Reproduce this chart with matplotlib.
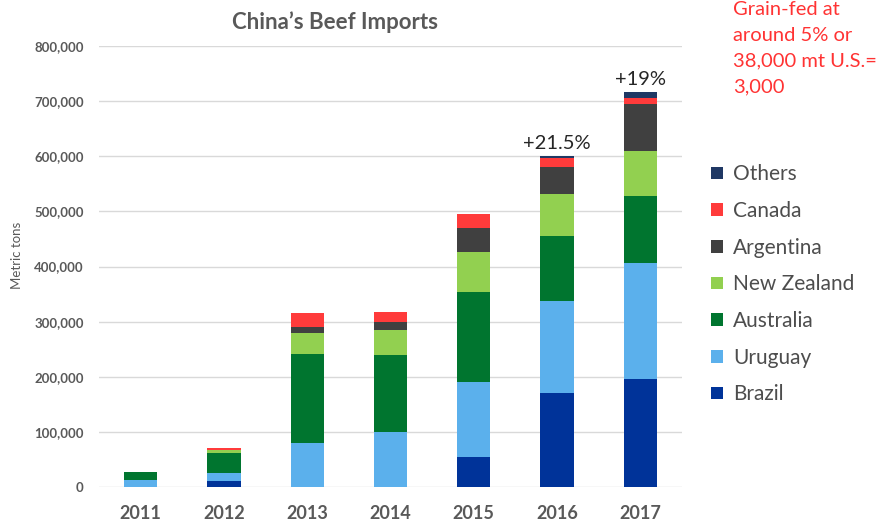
import numpy as np
import matplotlib
matplotlib.use("Agg")
import matplotlib.pyplot as plt
from matplotlib.patches import Patch
from matplotlib.ticker import FuncFormatter

plt.rcParams["font.family"] = ["Lato", "DejaVu Sans"]

# China beef imports by origin, metric tons
years = ["2011", "2012", "2013", "2014", "2015", "2016", "2017"]
brazil = [0, 10000, 0, 0, 55000, 170000, 196000]
uruguay = [12000, 16000, 80000, 100000, 136000, 167000, 211000]
australia = [15000, 35000, 162000, 140000, 162000, 118000, 120000]
new_zealand = [0, 6000, 38000, 44000, 74000, 76000, 83000]
argentina = [0, 1000, 10000, 15000, 42000, 50000, 85000]
canada = [0, 3000, 25000, 18000, 26000, 15000, 10000]
others = [0, 0, 0, 0, 0, 4000, 11000]

growth_labels = {5: "+21.5%", 6: "+19%"}

series = [
    ("Brazil", brazil, "#003399"),
    ("Uruguay", uruguay, "#5BB0EC"),
    ("Australia", australia, "#00752F"),
    ("New Zealand", new_zealand, "#92D050"),
    ("Argentina", argentina, "#404040"),
    ("Canada", canada, "#FF3B3B"),
    ("Others", others, "#1F3864"),
]

grey = "#595959"

fig = plt.figure(figsize=(8.87, 5.25), dpi=100)
ax = fig.add_axes([99 / 887, 38 / 525, 583 / 887, 441 / 525])

x = np.arange(len(years))
bottom = np.zeros(len(years))
for name, vals, color in series:
    ax.bar(x, vals, width=0.4, bottom=bottom, color=color, label=name, zorder=3)
    bottom += np.array(vals)

for i, txt in growth_labels.items():
    ax.text(x[i], bottom[i] + 8000, txt, ha="center", va="bottom",
            fontsize=14.5, color="#262626")

ax.set_xlim(-0.5, len(years) - 0.5)
ax.set_ylim(0, 800000)
ax.set_yticks(np.arange(0, 800001, 100000))
ax.yaxis.set_major_formatter(FuncFormatter(lambda v, p: f"{int(v):,}"))
ax.set_xticks(x)
ax.set_xticklabels(years, fontsize=13, fontweight="bold", color=grey)
for lbl in ax.get_yticklabels():
    lbl.set_fontsize(9.5)
    lbl.set_fontweight("bold")
    lbl.set_color(grey)
ax.tick_params(length=0)
ax.tick_params(axis="x", pad=13)
ax.tick_params(axis="y", pad=11)
ax.grid(axis="y", color="#D9D9D9", linewidth=1, zorder=0)
for s in ax.spines.values():
    s.set_visible(False)

fig.text(17 / 887, 1 - 255 / 525, "Metric tons", rotation=90, ha="center",
         va="center", fontsize=9.5, color=grey)

fig.text(335 / 887, 1 - 22 / 525, "China\u2019s Beef Imports", ha="center",
         va="center", fontsize=16, fontweight="bold", color=grey)

# legend, top entry first
handles = [Patch(facecolor=c, label=n) for n, _, c in reversed(series)]
fig.legend(handles=handles, loc="upper left", bbox_to_anchor=(703 / 887, 1 - 156 / 525),
           frameon=False, fontsize=15, labelcolor="#4D4D4D", handlelength=0.55,
           handleheight=0.55, handletextpad=0.5, labelspacing=0.8, borderaxespad=0)

fig.text(733 / 887, 1 - 1 / 525, "Grain-fed at\naround 5% or\n38,000 mt U.S.=\n3,000",
         ha="left", va="top", fontsize=14.5, color="#FF3333", linespacing=1.62)

fig.savefig("out.png", dpi=100)
